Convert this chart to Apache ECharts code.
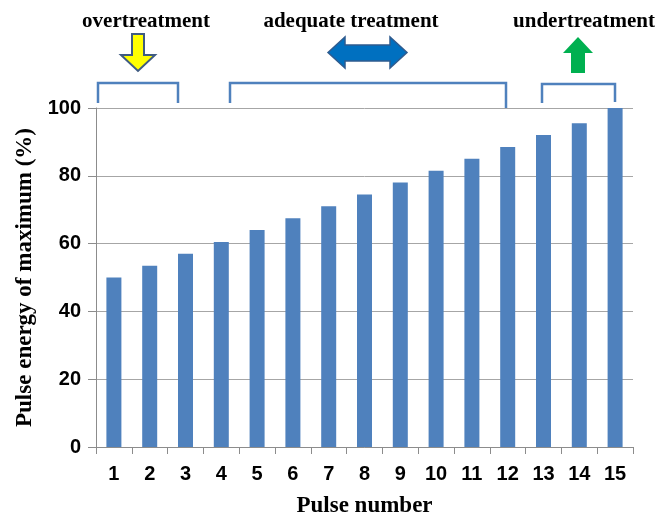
<!DOCTYPE html>
<html>
<head>
<meta charset="utf-8">
<script src="https://cdn.jsdelivr.net/npm/echarts@6/dist/echarts.min.js"></script>
<style>
html,body{margin:0;padding:0;background:#fff;}
#chart{width:660px;height:514px;}
</style>
</head>
<body>
<div id="chart"></div>
<script>
var categories = ['1','2','3','4','5','6','7','8','9','10','11','12','13','14','15'];
var pulseEnergy = [50, 53.5, 57, 60.5, 64, 67.5, 71, 74.5, 78, 81.5, 85, 88.5, 92, 95.5, 100];
var yTicks = [0, 20, 40, 60, 80, 100];
var topLabels = ['overtreatment', 'adequate treatment', 'undertreatment'];

var chart = echarts.init(document.getElementById('chart'));
var grey = '#8c8c8c';
var bracketColor = '#4f81bd';
var serif = '"Liberation Serif","Times New Roman",serif';
var sans = '"Liberation Sans",Arial,sans-serif';

chart.setOption({
  animation: false,
  backgroundColor: '#ffffff',
  grid: {left: 96, right: 27, top: 108, bottom: 67, containLabel: false, outerBoundsMode: 'none'},
  xAxis: {
    type: 'category',
    data: categories,
    name: 'Pulse number',
    nameLocation: 'middle',
    nameGap: 48,
    nameTextStyle: {fontFamily: serif, fontWeight: 'bold', fontSize: 23, color: '#000'},
    axisLine: {lineStyle: {color: grey, width: 1}},
    axisTick: {show: true, length: 7, lineStyle: {color: grey}},
    axisLabel: {fontFamily: sans, fontWeight: 'bold', fontSize: 20, color: '#000', margin: 17}
  },
  yAxis: {
    type: 'value',
    min: yTicks[0],
    max: yTicks[yTicks.length - 1],
    interval: yTicks[1] - yTicks[0],
    name: 'Pulse energy of maximum (%)',
    nameLocation: 'middle',
    nameGap: 57,
    nameRotate: 90,
    nameTextStyle: {fontFamily: serif, fontWeight: 'bold', fontSize: 23, color: '#000'},
    axisLine: {show: true, lineStyle: {color: grey, width: 1}},
    axisTick: {show: true, length: 8, lineStyle: {color: grey}},
    axisLabel: {fontFamily: sans, fontWeight: 'bold', fontSize: 20, color: '#000', margin: 15},
    splitLine: {show: true, lineStyle: {color: '#a6a6a6', width: 1}}
  },
  series: [{
    type: 'bar',
    data: pulseEnergy,
    barWidth: 15,
    itemStyle: {color: '#4f81bd'}
  }],
  graphic: [
    {type: 'text', style: {text: topLabels[0], x: 146, y: 22, align: 'center', verticalAlign: 'middle', font: 'bold 21px ' + serif, fill: '#000'}},
    {type: 'text', style: {text: topLabels[1], x: 351, y: 22, align: 'center', verticalAlign: 'middle', font: 'bold 21px ' + serif, fill: '#000'}},
    {type: 'text', style: {text: topLabels[2], x: 584, y: 22, align: 'center', verticalAlign: 'middle', font: 'bold 21px ' + serif, fill: '#000'}},
    {type: 'polygon', shape: {points: [[132,34],[144,34],[144,55],[155,55],[138,71],[121,55],[132,55]]}, style: {fill: '#ffff00', stroke: '#3f5b82', lineWidth: 2}},
    {type: 'polygon', shape: {points: [[328,52.5],[345,37],[345,45],[390,45],[390,37],[407,52.5],[390,68],[390,61],[345,61],[345,68]]}, style: {fill: '#0070c0', stroke: '#2e5b8f', lineWidth: 1.5}},
    {type: 'polygon', shape: {points: [[578,37],[593,53],[585,53],[585,73],[571,73],[571,53],[563,53]]}, style: {fill: '#00b050'}},
    {type: 'polyline', shape: {points: [[98,103],[98,83],[178,83],[178,103]]}, style: {stroke: bracketColor, lineWidth: 2.5, fill: null}},
    {type: 'polyline', shape: {points: [[230,103],[230,83],[506,83],[506,108]]}, style: {stroke: bracketColor, lineWidth: 2.5, fill: null}},
    {type: 'polyline', shape: {points: [[542,103],[542,84],[615,84],[615,102]]}, style: {stroke: bracketColor, lineWidth: 2.5, fill: null}}
  ]
});
</script>
</body>
</html>
